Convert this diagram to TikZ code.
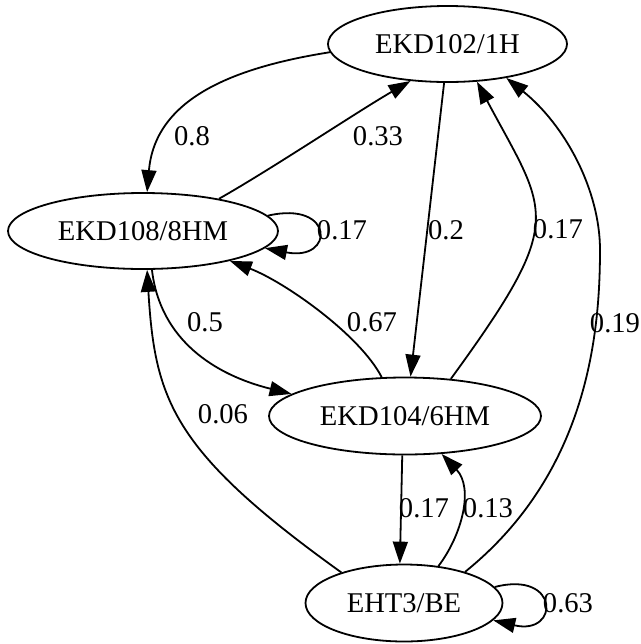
\documentclass[tikz,border=0pt]{standalone}
\usepackage{fontspec}
\setmainfont{Liberation Serif}
\usetikzlibrary{shapes.geometric,arrows.meta}
\begin{document}
\begin{tikzpicture}[x=0.5pt,y=-0.5pt,
  state/.style={ellipse,draw,line width=0.9pt,inner sep=0pt,minimum height=38pt,
    font=\fontsize{14.3}{17}\selectfont},
  edge/.style={line width=0.9pt,-{Triangle[length=11pt,width=7.5pt]}},
  weight/.style={inner sep=0pt,font=\fontsize{14.3}{17}\selectfont}]
\useasboundingbox (0,0) rectangle (641,644);
% states
\node[state,minimum width=119.5pt] (A) at (447.5,44) {EKD102/1H};
\node[state,minimum width=135pt] (B) at (143,231) {EKD108/8HM};
\node[state,minimum width=136pt,minimum height=38.5pt] (C) at (405,416) {EKD104/6HM};
\node[state,minimum width=98.5pt,minimum height=38.5pt] (D) at (404,603) {EHT3/BE};
% transitions
\draw[edge] (A.184) .. controls (230,68) and (155,100) .. (B.84);
\draw[edge] (B.23) .. controls (270,170) and (360,110) .. (A.225);
\draw[edge] (B.7) .. controls (335,200) and (335,262) .. (B.-8);
\draw[edge] (A.265) -- (C.82);
\draw[edge] (C.39) .. controls (568,218) and (548,215) .. (A.-52);
\draw[edge] (D.27) .. controls (585,475) and (600,340) .. (600,250)
  .. controls (600,190) and (565,125) .. (A.-30);
\draw[edge] (B.-77) .. controls (160,340) and (215,375) .. (C.169);
\draw[edge] (C.121) .. controls (360,335) and (285,282) .. (B.-19);
\draw[edge] (D.154) .. controls (172,451) and (155,400) .. (B.-84);
\draw[edge] (C.-94) -- (D.96);
\draw[edge] (D.47) .. controls (462,535) and (474,488) .. (C.-46);
\draw[edge] (D.10) .. controls (560,570) and (560,636) .. (D.-11);
% weights
\node[weight] (l1) at (192,136) {0.8};
\node[weight] (l2) at (378,136) {0.33};
\node[weight] (l3) at (342,230) {0.17};
\node[weight] (l4) at (446,230) {0.2};
\node[weight] (l5) at (558,229) {0.17};
\node[weight] (l6) at (615,323) {0.19};
\node[weight] (l7) at (205,322) {0.5};
\node[weight] (l8) at (372,322) {0.67};
\node[weight] (l9) at (223,414) {0.06};
\node[weight] (l10) at (424,508) {0.17};
\node[weight] (l11) at (488,508) {0.13};
\node[weight] (l12) at (568,603) {0.63};
\end{tikzpicture}
\end{document}
